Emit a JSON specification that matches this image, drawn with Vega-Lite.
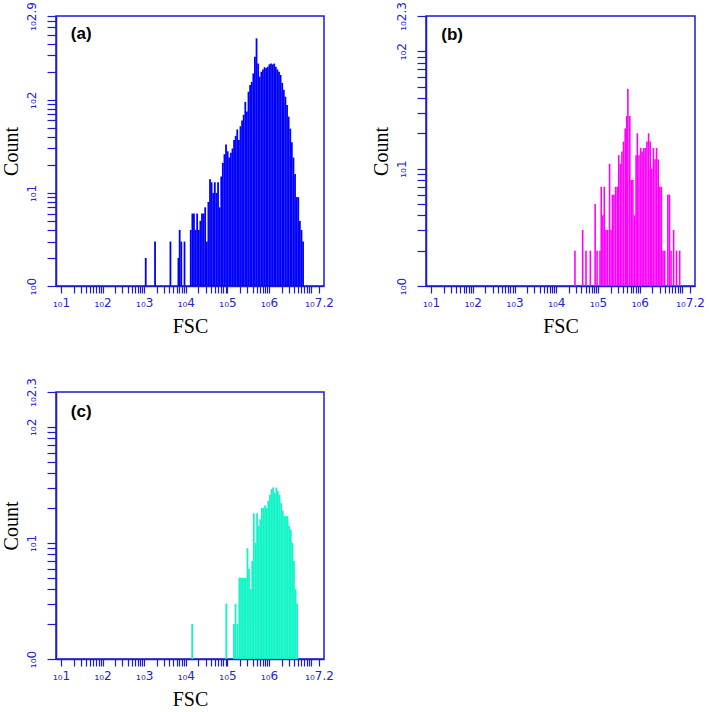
{
  "$schema": "https://vega.github.io/schema/vega-lite/v6.json",
  "padding": {"left": 0, "top": 0, "right": 0, "bottom": 0},
  "background": "white",
  "datasets": {
    "a": [
      {"logFSC": 3.036, "count": 2}, {"logFSC": 3.260, "count": 3}, {"logFSC": 3.630, "count": 3},
      {"logFSC": 3.822, "count": 2}, {"logFSC": 3.852, "count": 4}, {"logFSC": 3.891, "count": 3},
      {"logFSC": 3.968, "count": 3},
      {"logFSC": 4.118, "count": 4}, {"logFSC": 4.157, "count": 6}, {"logFSC": 4.195, "count": 6},
      {"logFSC": 4.234, "count": 4}, {"logFSC": 4.272, "count": 6}, {"logFSC": 4.311, "count": 4},
      {"logFSC": 4.349, "count": 5}, {"logFSC": 4.388, "count": 6}, {"logFSC": 4.426, "count": 6},
      {"logFSC": 4.465, "count": 7}, {"logFSC": 4.504, "count": 3}, {"logFSC": 4.542, "count": 8},
      {"logFSC": 4.581, "count": 14}, {"logFSC": 4.619, "count": 13}, {"logFSC": 4.658, "count": 10},
      {"logFSC": 4.696, "count": 13}, {"logFSC": 4.735, "count": 10}, {"logFSC": 4.774, "count": 13},
      {"logFSC": 4.812, "count": 7}, {"logFSC": 4.851, "count": 15}, {"logFSC": 4.889, "count": 21},
      {"logFSC": 4.928, "count": 26}, {"logFSC": 4.966, "count": 33}, {"logFSC": 5.005, "count": 28},
      {"logFSC": 5.043, "count": 24}, {"logFSC": 5.082, "count": 27}, {"logFSC": 5.121, "count": 30},
      {"logFSC": 5.159, "count": 37}, {"logFSC": 5.198, "count": 41}, {"logFSC": 5.236, "count": 48},
      {"logFSC": 5.275, "count": 37}, {"logFSC": 5.313, "count": 52}, {"logFSC": 5.352, "count": 60},
      {"logFSC": 5.390, "count": 69}, {"logFSC": 5.429, "count": 95}, {"logFSC": 5.468, "count": 75},
      {"logFSC": 5.506, "count": 122}, {"logFSC": 5.545, "count": 144}, {"logFSC": 5.583, "count": 156},
      {"logFSC": 5.622, "count": 192}, {"logFSC": 5.660, "count": 290}, {"logFSC": 5.699, "count": 457},
      {"logFSC": 5.738, "count": 245}, {"logFSC": 5.776, "count": 177}, {"logFSC": 5.815, "count": 200},
      {"logFSC": 5.853, "count": 212}, {"logFSC": 5.892, "count": 224}, {"logFSC": 5.930, "count": 219},
      {"logFSC": 5.969, "count": 226}, {"logFSC": 6.007, "count": 240}, {"logFSC": 6.046, "count": 245},
      {"logFSC": 6.085, "count": 240}, {"logFSC": 6.123, "count": 245}, {"logFSC": 6.162, "count": 226},
      {"logFSC": 6.200, "count": 212}, {"logFSC": 6.239, "count": 200}, {"logFSC": 6.277, "count": 185},
      {"logFSC": 6.316, "count": 152}, {"logFSC": 6.354, "count": 128}, {"logFSC": 6.393, "count": 108},
      {"logFSC": 6.432, "count": 88}, {"logFSC": 6.470, "count": 66}, {"logFSC": 6.509, "count": 49},
      {"logFSC": 6.547, "count": 35}, {"logFSC": 6.586, "count": 24}, {"logFSC": 6.624, "count": 16},
      {"logFSC": 6.663, "count": 9}, {"logFSC": 6.701, "count": 9}, {"logFSC": 6.740, "count": 5},
      {"logFSC": 6.779, "count": 4}, {"logFSC": 6.817, "count": 3}
    ],
    "b": [
      {"logFSC": 4.446, "count": 2}, {"logFSC": 4.630, "count": 3}, {"logFSC": 4.711, "count": 2},
      {"logFSC": 4.814, "count": 2}, {"logFSC": 4.929, "count": 5}, {"logFSC": 4.976, "count": 2},
      {"logFSC": 5.045, "count": 2}, {"logFSC": 5.075, "count": 7}, {"logFSC": 5.114, "count": 4},
      {"logFSC": 5.148, "count": 7}, {"logFSC": 5.188, "count": 3}, {"logFSC": 5.229, "count": 3},
      {"logFSC": 5.275, "count": 11}, {"logFSC": 5.310, "count": 3}, {"logFSC": 5.344, "count": 6},
      {"logFSC": 5.379, "count": 6}, {"logFSC": 5.420, "count": 7}, {"logFSC": 5.460, "count": 7},
      {"logFSC": 5.494, "count": 13}, {"logFSC": 5.533, "count": 11}, {"logFSC": 5.570, "count": 14},
      {"logFSC": 5.609, "count": 17}, {"logFSC": 5.649, "count": 22}, {"logFSC": 5.685, "count": 28},
      {"logFSC": 5.713, "count": 48}, {"logFSC": 5.759, "count": 28}, {"logFSC": 5.794, "count": 8},
      {"logFSC": 5.833, "count": 8}, {"logFSC": 5.870, "count": 4}, {"logFSC": 5.909, "count": 13},
      {"logFSC": 5.939, "count": 20}, {"logFSC": 5.978, "count": 13}, {"logFSC": 6.017, "count": 15},
      {"logFSC": 6.054, "count": 14}, {"logFSC": 6.093, "count": 15}, {"logFSC": 6.133, "count": 15},
      {"logFSC": 6.169, "count": 17}, {"logFSC": 6.209, "count": 20}, {"logFSC": 6.248, "count": 17},
      {"logFSC": 6.285, "count": 10}, {"logFSC": 6.324, "count": 15}, {"logFSC": 6.363, "count": 12},
      {"logFSC": 6.400, "count": 15}, {"logFSC": 6.439, "count": 12}, {"logFSC": 6.478, "count": 7},
      {"logFSC": 6.515, "count": 7}, {"logFSC": 6.554, "count": 2}, {"logFSC": 6.593, "count": 2},
      {"logFSC": 6.670, "count": 6}, {"logFSC": 6.709, "count": 6}, {"logFSC": 6.746, "count": 2},
      {"logFSC": 6.808, "count": 3}, {"logFSC": 6.877, "count": 2}, {"logFSC": 6.953, "count": 2}
    ],
    "c": [
      {"logFSC": 4.153, "count": 2}, {"logFSC": 4.972, "count": 3}, {"logFSC": 5.157, "count": 2},
      {"logFSC": 5.194, "count": 3}, {"logFSC": 5.240, "count": 2}, {"logFSC": 5.286, "count": 5},
      {"logFSC": 5.326, "count": 5}, {"logFSC": 5.365, "count": 5}, {"logFSC": 5.402, "count": 5},
      {"logFSC": 5.441, "count": 5}, {"logFSC": 5.481, "count": 9}, {"logFSC": 5.518, "count": 6},
      {"logFSC": 5.557, "count": 4}, {"logFSC": 5.596, "count": 7}, {"logFSC": 5.633, "count": 18},
      {"logFSC": 5.673, "count": 10}, {"logFSC": 5.712, "count": 18}, {"logFSC": 5.749, "count": 14},
      {"logFSC": 5.788, "count": 16}, {"logFSC": 5.828, "count": 20}, {"logFSC": 5.865, "count": 20},
      {"logFSC": 5.904, "count": 21}, {"logFSC": 5.943, "count": 20}, {"logFSC": 5.980, "count": 23},
      {"logFSC": 6.020, "count": 26}, {"logFSC": 6.059, "count": 29}, {"logFSC": 6.096, "count": 30},
      {"logFSC": 6.135, "count": 27}, {"logFSC": 6.175, "count": 30}, {"logFSC": 6.212, "count": 28},
      {"logFSC": 6.251, "count": 26}, {"logFSC": 6.290, "count": 22}, {"logFSC": 6.327, "count": 19},
      {"logFSC": 6.367, "count": 17}, {"logFSC": 6.406, "count": 17}, {"logFSC": 6.443, "count": 17},
      {"logFSC": 6.482, "count": 14}, {"logFSC": 6.522, "count": 13}, {"logFSC": 6.559, "count": 10},
      {"logFSC": 6.598, "count": 7}, {"logFSC": 6.637, "count": 4}, {"logFSC": 6.674, "count": 3}
    ],
    "la": [{"panel": "(a)"}],
    "lb": [{"panel": "(b)"}],
    "lc": [{"panel": "(c)"}]
  },
  "vconcat": [
    {
      "hconcat": [
        {
          "width": 268,
          "height": 270,
          "layer": [
            {
              "data": {"name": "a"},
              "mark": {"type": "bar", "color": "#0000ff", "size": 1.8},
              "encoding": {
                "x": {"field": "logFSC", "type": "quantitative",
                  "scale": {"domain": [1, 7.2], "nice": false, "zero": false},
                  "axis": {"title": "FSC",
                    "values": [1,1.301,1.477,1.602,1.699,1.778,1.845,1.903,1.954,2,2.301,2.477,2.602,2.699,2.778,2.845,2.903,2.954,3,3.301,3.477,3.602,3.699,3.778,3.845,3.903,3.954,4,4.301,4.477,4.602,4.699,4.778,4.845,4.903,4.954,5,5.301,5.477,5.602,5.699,5.778,5.845,5.903,5.954,6,6.301,6.477,6.602,6.699,6.778,6.845,6.903,6.954,7,7.2],
                    "labelExpr": "datum.value == 7.2 ? '₁₀7.2' : (datum.value == round(datum.value) && datum.value < 7 ? '₁₀' + datum.value : '')"}},
                "y": {"field": "count", "type": "quantitative",
                  "scale": {"type": "log", "domain": [1, 794.33], "nice": false},
                  "axis": {"title": "Count",
                    "values": [1,2,3,4,5,6,7,8,9,10,20,30,40,50,60,70,80,90,100,200,300,400,500,600,700,794.33],
                    "labelExpr": "datum.value == 1 ? '₁₀0' : datum.value == 10 ? '₁₀1' : datum.value == 100 ? '₁₀2' : datum.value > 790 ? '₁₀2.9' : ''"}},
                "y2": {"datum": 1}
              }
            },
            {
              "data": {"name": "la"},
              "mark": {"type": "text", "font": "Liberation Sans", "fontWeight": "bold", "fontSize": 17, "color": "black", "align": "center", "baseline": "middle"},
              "encoding": {
                "x": {"datum": 1.486, "type": "quantitative",
                  "scale": {"domain": [1, 7.2], "nice": false, "zero": false},
                  "axis": {"title": "FSC",
                    "values": [1,1.301,1.477,1.602,1.699,1.778,1.845,1.903,1.954,2,2.301,2.477,2.602,2.699,2.778,2.845,2.903,2.954,3,3.301,3.477,3.602,3.699,3.778,3.845,3.903,3.954,4,4.301,4.477,4.602,4.699,4.778,4.845,4.903,4.954,5,5.301,5.477,5.602,5.699,5.778,5.845,5.903,5.954,6,6.301,6.477,6.602,6.699,6.778,6.845,6.903,6.954,7,7.2],
                    "labelExpr": "datum.value == 7.2 ? '₁₀7.2' : (datum.value == round(datum.value) && datum.value < 7 ? '₁₀' + datum.value : '')"}},
                "y": {"datum": 509, "type": "quantitative",
                  "scale": {"type": "log", "domain": [1, 794.33], "nice": false},
                  "axis": {"title": "Count",
                    "values": [1,2,3,4,5,6,7,8,9,10,20,30,40,50,60,70,80,90,100,200,300,400,500,600,700,794.33],
                    "labelExpr": "datum.value == 1 ? '₁₀0' : datum.value == 10 ? '₁₀1' : datum.value == 100 ? '₁₀2' : datum.value > 790 ? '₁₀2.9' : ''"}},
                "text": {"field": "panel"}
              }
            }
          ]
        },
        {
          "width": 269,
          "height": 270,
          "layer": [
            {
              "data": {"name": "b"},
              "mark": {"type": "bar", "color": "#ff00ff", "size": 1.6},
              "encoding": {
                "x": {"field": "logFSC", "type": "quantitative",
                  "scale": {"domain": [1, 7.2], "nice": false, "zero": false},
                  "axis": {"title": "FSC",
                    "values": [1,1.301,1.477,1.602,1.699,1.778,1.845,1.903,1.954,2,2.301,2.477,2.602,2.699,2.778,2.845,2.903,2.954,3,3.301,3.477,3.602,3.699,3.778,3.845,3.903,3.954,4,4.301,4.477,4.602,4.699,4.778,4.845,4.903,4.954,5,5.301,5.477,5.602,5.699,5.778,5.845,5.903,5.954,6,6.301,6.477,6.602,6.699,6.778,6.845,6.903,6.954,7,7.2],
                    "labelExpr": "datum.value == 7.2 ? '₁₀7.2' : (datum.value == round(datum.value) && datum.value < 7 ? '₁₀' + datum.value : '')"}},
                "y": {"field": "count", "type": "quantitative",
                  "scale": {"type": "log", "domain": [1, 199.53], "nice": false},
                  "axis": {"title": "Count",
                    "values": [1,2,3,4,5,6,7,8,9,10,20,30,40,50,60,70,80,90,100,199.53],
                    "labelExpr": "datum.value == 1 ? '₁₀0' : datum.value == 10 ? '₁₀1' : datum.value == 100 ? '₁₀2' : datum.value > 199 ? '₁₀2.3' : ''"}},
                "y2": {"datum": 1}
              }
            },
            {
              "data": {"name": "lb"},
              "mark": {"type": "text", "font": "Liberation Sans", "fontWeight": "bold", "fontSize": 17, "color": "black", "align": "center", "baseline": "middle"},
              "encoding": {
                "x": {"datum": 1.507, "type": "quantitative",
                  "scale": {"domain": [1, 7.2], "nice": false, "zero": false},
                  "axis": {"title": "FSC",
                    "values": [1,1.301,1.477,1.602,1.699,1.778,1.845,1.903,1.954,2,2.301,2.477,2.602,2.699,2.778,2.845,2.903,2.954,3,3.301,3.477,3.602,3.699,3.778,3.845,3.903,3.954,4,4.301,4.477,4.602,4.699,4.778,4.845,4.903,4.954,5,5.301,5.477,5.602,5.699,5.778,5.845,5.903,5.954,6,6.301,6.477,6.602,6.699,6.778,6.845,6.903,6.954,7,7.2],
                    "labelExpr": "datum.value == 7.2 ? '₁₀7.2' : (datum.value == round(datum.value) && datum.value < 7 ? '₁₀' + datum.value : '')"}},
                "y": {"datum": 137, "type": "quantitative",
                  "scale": {"type": "log", "domain": [1, 199.53], "nice": false},
                  "axis": {"title": "Count",
                    "values": [1,2,3,4,5,6,7,8,9,10,20,30,40,50,60,70,80,90,100,199.53],
                    "labelExpr": "datum.value == 1 ? '₁₀0' : datum.value == 10 ? '₁₀1' : datum.value == 100 ? '₁₀2' : datum.value > 199 ? '₁₀2.3' : ''"}},
                "text": {"field": "panel"}
              }
            }
          ]
        }
      ]
    },
    {
      "width": 268,
      "height": 267,
      "layer": [
        {
          "data": {"name": "c"},
          "mark": {"type": "bar", "color": "#12f5c6", "size": 1.8},
          "encoding": {
            "x": {"field": "logFSC", "type": "quantitative",
              "scale": {"domain": [1, 7.2], "nice": false, "zero": false},
              "axis": {"title": "FSC",
                "values": [1,1.301,1.477,1.602,1.699,1.778,1.845,1.903,1.954,2,2.301,2.477,2.602,2.699,2.778,2.845,2.903,2.954,3,3.301,3.477,3.602,3.699,3.778,3.845,3.903,3.954,4,4.301,4.477,4.602,4.699,4.778,4.845,4.903,4.954,5,5.301,5.477,5.602,5.699,5.778,5.845,5.903,5.954,6,6.301,6.477,6.602,6.699,6.778,6.845,6.903,6.954,7,7.2],
                "labelExpr": "datum.value == 7.2 ? '₁₀7.2' : (datum.value == round(datum.value) && datum.value < 7 ? '₁₀' + datum.value : '')"}},
            "y": {"field": "count", "type": "quantitative",
              "scale": {"type": "log", "domain": [1, 199.53], "nice": false},
              "axis": {"title": "Count",
                "values": [1,2,3,4,5,6,7,8,9,10,20,30,40,50,60,70,80,90,100,199.53],
                "labelExpr": "datum.value == 1 ? '₁₀0' : datum.value == 10 ? '₁₀1' : datum.value == 100 ? '₁₀2' : datum.value > 199 ? '₁₀2.3' : ''"}},
            "y2": {"datum": 1}
          }
        },
        {
          "data": {"name": "lc"},
          "mark": {"type": "text", "font": "Liberation Sans", "fontWeight": "bold", "fontSize": 17, "color": "black", "align": "center", "baseline": "middle"},
          "encoding": {
            "x": {"datum": 1.486, "type": "quantitative",
              "scale": {"domain": [1, 7.2], "nice": false, "zero": false},
              "axis": {"title": "FSC",
                "values": [1,1.301,1.477,1.602,1.699,1.778,1.845,1.903,1.954,2,2.301,2.477,2.602,2.699,2.778,2.845,2.903,2.954,3,3.301,3.477,3.602,3.699,3.778,3.845,3.903,3.954,4,4.301,4.477,4.602,4.699,4.778,4.845,4.903,4.954,5,5.301,5.477,5.602,5.699,5.778,5.845,5.903,5.954,6,6.301,6.477,6.602,6.699,6.778,6.845,6.903,6.954,7,7.2],
                "labelExpr": "datum.value == 7.2 ? '₁₀7.2' : (datum.value == round(datum.value) && datum.value < 7 ? '₁₀' + datum.value : '')"}},
            "y": {"datum": 135.5, "type": "quantitative",
              "scale": {"type": "log", "domain": [1, 199.53], "nice": false},
              "axis": {"title": "Count",
                "values": [1,2,3,4,5,6,7,8,9,10,20,30,40,50,60,70,80,90,100,199.53],
                "labelExpr": "datum.value == 1 ? '₁₀0' : datum.value == 10 ? '₁₀1' : datum.value == 100 ? '₁₀2' : datum.value > 199 ? '₁₀2.3' : ''"}},
            "text": {"field": "panel"}
          }
        }
      ]
    }
  ],
  "spacing": 39,
  "config": {
    "concat": {"spacing": 35},
    "view": {"stroke": "#1c1ccc", "strokeWidth": 1.5},
    "axis": {
      "domainColor": "#1c1ccc", "domainWidth": 1.5,
      "tickColor": "#1c1ccc", "tickWidth": 1.2, "tickSize": 8,
      "labelColor": "#2323d0", "labelFont": "DejaVu Sans", "labelFontSize": 12,
      "labelOverlap": false, "labelFlush": false, "labelBound": false,
      "grid": false,
      "titleFont": "Liberation Serif", "titleFontSize": 20, "titleFontWeight": "normal", "titleColor": "black"
    },
    "axisX": {"labelAngle": 0, "tickSize": 7, "labelPadding": 4, "titlePadding": 8},
    "axisY": {"labelAngle": 270, "labelAlign": "center", "labelBaseline": "bottom", "tickSize": 9, "labelPadding": 9, "titlePadding": 4}
  }
}
